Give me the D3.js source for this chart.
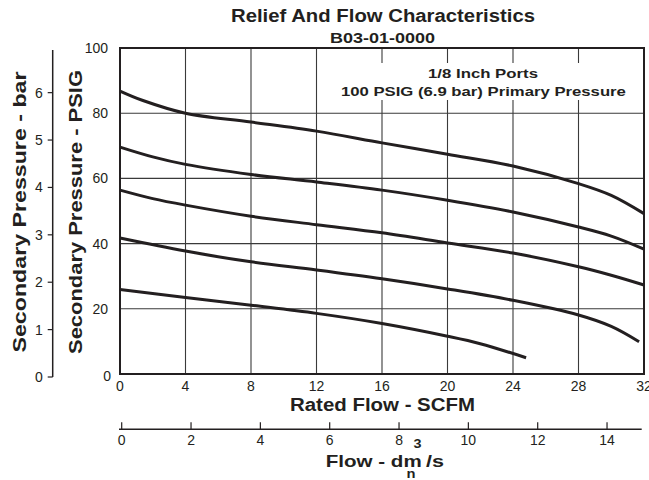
<!DOCTYPE html>
<html>
<head>
<meta charset="utf-8">
<script src="https://cdnjs.cloudflare.com/ajax/libs/d3/7.8.5/d3.min.js"></script>
<style>
  body { margin: 0; background: #fff; }
  text { font-family: "Liberation Sans", Arial, Helvetica, sans-serif; fill: #231f20; }
</style>
</head>
<body>
<script>
// data (flow in SCFM, secondary pressure in PSIG)
var flowTicks = [0, 4, 8, 12, 16, 20, 24, 28, 32];
var psiTicks = [0, 20, 40, 60, 80, 100];
var barTicks = [0, 1, 2, 3, 4, 5, 6];
var dmTicks = [0, 2, 4, 6, 8, 10, 12, 14];

var curve1 = [[0, 86.8], [1.4, 83.9], [4, 80.0], [8, 77.3], [12, 74.5], [16, 70.9], [20, 67.4], [24, 63.8], [28, 58.4], [30, 54.8], [32, 49.2]];
var curve2 = [[0, 69.6], [2, 66.6], [4, 64.3], [8, 61.2], [12, 58.9], [16, 56.4], [20, 53.3], [24, 49.7], [28, 45.1], [30, 42.3], [32, 38.3]];
var curve3 = [[0, 56.4], [2, 53.8], [4, 51.8], [8, 48.4], [12, 45.8], [16, 43.3], [20, 40.2], [24, 37.1], [28, 32.9], [30, 30.3], [32, 27.3]];
var curve4 = [[0, 41.7], [4, 37.7], [8, 34.4], [12, 31.9], [16, 29.2], [20, 26.1], [24, 22.6], [28, 18.1], [30, 14.6], [31.7, 9.9]];
var curve5 = [[0, 25.9], [4, 23.5], [8, 21.1], [12, 18.6], [16, 15.5], [20, 11.6], [22, 9.3], [24.8, 5.0]];

var W = 649, H = 480;
var PLOT = {left: 120, right: 644, top: 48, bottom: 374};

function draw() {
    var svg = d3.select('body').append('svg')
        .attr('width', W)
        .attr('height', H);

    var x = d3.scaleLinear().domain([0, 32]).range([PLOT.left, PLOT.right]);
    var y = d3.scaleLinear().domain([0, 100]).range([PLOT.bottom, PLOT.top]);
    var yBar = d3.scaleLinear().domain([0, 6.9]).range([377, 50]);
    var xDm = d3.scaleLinear().domain([0, 15]).range([121.7, 641.7]);

    // grid
    svg.append('g').selectAll('line.v')
        .data(flowTicks.slice(1, -1))
        .enter().append('line')
            .attr('x1', function (d) { return x(d); })
            .attr('x2', function (d) { return x(d); })
            .attr('y1', PLOT.top)
            .attr('y2', PLOT.bottom)
            .style('stroke', '#3a3a3a')
            .style('stroke-width', 1.1);

    svg.append('g').selectAll('line.h')
        .data(psiTicks.slice(1, -1))
        .enter().append('line')
            .attr('x1', PLOT.left)
            .attr('x2', PLOT.right)
            .attr('y1', function (d) { return y(d); })
            .attr('y2', function (d) { return y(d); })
            .style('stroke', '#3a3a3a')
            .style('stroke-width', 1.1);

    // white patch behind the note
    svg.append('rect')
        .attr('x', 338).attr('y', 63)
        .attr('width', 292).attr('height', 37)
        .style('fill', '#fff');

    svg.append('rect')
        .attr('x', PLOT.left).attr('y', PLOT.top)
        .attr('width', PLOT.right - PLOT.left)
        .attr('height', PLOT.bottom - PLOT.top)
        .style('fill', 'none')
        .style('stroke', '#231f20')
        .style('stroke-width', 2);

    // curves
    var line = d3.line()
        .x(function (d) { return x(d[0]); })
        .y(function (d) { return y(d[1]); })
        .curve(d3.curveCatmullRom.alpha(0.5));

    svg.append('g').selectAll('path')
        .data([curve1, curve2, curve3, curve4, curve5])
        .enter().append('path')
            .attr('d', line)
            .style('fill', 'none')
            .style('stroke', '#231f20')
            .style('stroke-width', 3);

    // PSIG labels
    svg.append('g').selectAll('text')
        .data(psiTicks)
        .enter().append('text')
            .attr('x', function (d) { return d == 0 ? 111 : 108; })
            .attr('y', function (d) { return d == 0 ? y(d) + 2 : y(d); })
            .attr('dy', '0.36em')
            .attr('text-anchor', 'end')
            .style('font-size', '14px')
            .text(function (d) { return d; });

    // SCFM labels
    svg.append('g').selectAll('text')
        .data(flowTicks)
        .enter().append('text')
            .attr('x', function (d) { return x(d); })
            .attr('y', 391)
            .attr('text-anchor', 'middle')
            .style('font-size', '14px')
            .text(function (d) { return d; });

    // bar axis on the far left
    var barAxis = svg.append('g').attr('transform', 'translate(52.7,0)');
    barAxis.append('line')
        .attr('x1', 0).attr('x2', 0)
        .attr('y1', 50).attr('y2', yBar(0))
        .style('stroke', '#231f20').style('stroke-width', 1.5);
    barAxis.selectAll('line.t')
        .data(barTicks)
        .enter().append('line')
            .attr('x1', -5).attr('x2', 0)
            .attr('y1', function (d) { return yBar(d); })
            .attr('y2', function (d) { return yBar(d); })
            .style('stroke', '#231f20').style('stroke-width', 1.2);
    barAxis.selectAll('text')
        .data(barTicks)
        .enter().append('text')
            .attr('x', -10)
            .attr('y', function (d) { return yBar(d); })
            .attr('dy', '0.36em')
            .attr('text-anchor', 'end')
            .style('font-size', '14px')
            .text(function (d) { return d; });

    // dm3/s axis under the plot
    var dmAxis = svg.append('g').attr('transform', 'translate(0,429.3)');
    dmAxis.append('line')
        .attr('x1', 119).attr('x2', 641.7)
        .attr('y1', 0).attr('y2', 0)
        .style('stroke', '#231f20').style('stroke-width', 1.5);
    dmAxis.selectAll('line.t')
        .data(dmTicks)
        .enter().append('line')
            .attr('x1', function (d) { return xDm(d); })
            .attr('x2', function (d) { return xDm(d); })
            .attr('y1', -7).attr('y2', 0)
            .style('stroke', '#231f20').style('stroke-width', 1.2);
    dmAxis.selectAll('text')
        .data(dmTicks)
        .enter().append('text')
            .attr('x', function (d) { return xDm(d); })
            .attr('y', 16)
            .attr('text-anchor', 'middle')
            .style('font-size', '14px')
            .text(function (d) { return d; });

    // titles
    function boldText(tx, ty, size, len, str, anchor) {
        return svg.append('text')
            .attr('x', tx).attr('y', ty)
            .attr('text-anchor', anchor || 'middle')
            .attr('textLength', len)
            .attr('lengthAdjust', 'spacingAndGlyphs')
            .style('font-size', size + 'px')
            .style('font-weight', 'bold')
            .text(str);
    }

    boldText(383, 22, 18, 304, 'Relief And Flow Characteristics');
    boldText(382.5, 42.5, 15, 105, 'B03-01-0000');
    boldText(483, 77.5, 13.5, 110, '1/8 Inch Ports');
    boldText(483.4, 95.5, 13.5, 285, '100 PSIG (6.9 bar) Primary Pressure');
    boldText(382.5, 411, 17.5, 185, 'Rated Flow - SCFM');

    boldText(421.7, 466.7, 16.5, 96, 'Flow - dm', 'end');
    boldText(426, 466.7, 16.5, 18, '/s', 'start');
    boldText(417.5, 448, 13, 8, '3');
    boldText(411, 478, 13, 9, 'n');

    boldText(0, 0, 17.5, 281, 'Secondary Pressure - bar')
        .attr('transform', 'translate(26,212) rotate(-90)');
    boldText(0, 0, 17.5, 284, 'Secondary Pressure - PSIG')
        .attr('transform', 'translate(82,212) rotate(-90)');
}

draw();
</script>
</body>
</html>
